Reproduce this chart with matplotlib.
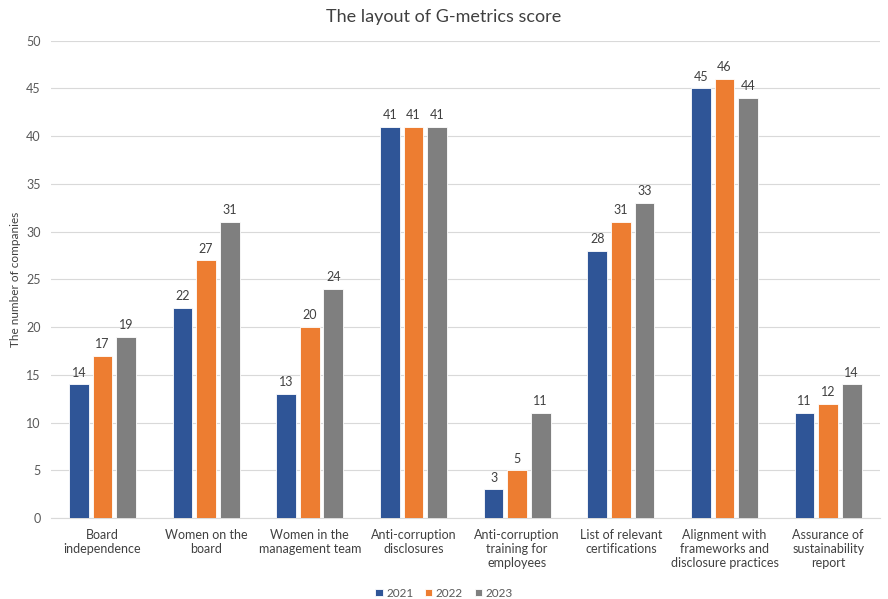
import numpy as np
import matplotlib
matplotlib.use('Agg')
import matplotlib.pyplot as plt

plt.rcParams['font.family'] = ['Lato', 'DejaVu Sans']

categories = ['Board\nindependence', 'Women on the\nboard', 'Women in the\nmanagement team',
              'Anti-corruption\ndisclosures', 'Anti-corruption\ntraining for\nemployees',
              'List of relevant\ncertifications', 'Alignment with\nframeworks and\ndisclosure practices',
              'Assurance of\nsustainability\nreport']
years = ['2021', '2022', '2023']
v2021 = [14, 22, 13, 41, 3, 28, 45, 11]
v2022 = [17, 27, 20, 41, 5, 31, 46, 12]
v2023 = [19, 31, 24, 41, 11, 33, 44, 14]
colors = ['#2F5597', '#ED7D31', '#7F7F7F']

fig = plt.figure(figsize=(8.88, 5.99), dpi=100)
ax = fig.add_axes([0.057, 0.135, 0.934, 0.797])

x = np.arange(len(categories))
width = 0.19
step = 0.227
for i, (vals, yr) in enumerate(zip([v2021, v2022, v2023], years)):
    bars = ax.bar(x + (i - 1) * step, vals, width, color=colors[i], label=yr,
                  edgecolor='white', linewidth=0.6, zorder=3)
    for b, v in zip(bars, vals):
        ax.text(b.get_x() + b.get_width() / 2, v + 0.6, str(v), ha='center', va='bottom',
                fontsize=9, color='#404040')

ax.set_xlim(-0.5, len(categories) - 0.5)
ax.set_ylim(0, 50)
ax.set_yticks(range(0, 51, 5))
ax.set_xticks(x)
ax.set_xticklabels(categories, fontsize=9, color='#404040', va='top')
ax.tick_params(axis='y', labelsize=9, labelcolor='#595959', length=0, pad=7)
ax.tick_params(axis='x', length=0, pad=8)
ax.grid(axis='y', color='#D9D9D9', linewidth=0.8, zorder=0)
for s in ['top', 'right', 'left']:
    ax.spines[s].set_visible(False)
ax.spines['bottom'].set_color('#D9D9D9')

fig.text(0.018, 0.533, 'The number of companies', rotation=90, ha='center', va='center',
         fontsize=8.5, color='#404040')
fig.suptitle('The layout of G-metrics score', fontsize=13, color='#404040', y=0.985)

fig.legend(loc='lower center', ncol=3, frameon=False, fontsize=8.5, handlelength=0.6,
           handleheight=0.6, handletextpad=0.3, columnspacing=1.0, bbox_to_anchor=(0.5, -0.017),
           labelcolor='#595959')

fig.savefig('out.png', dpi=100)
